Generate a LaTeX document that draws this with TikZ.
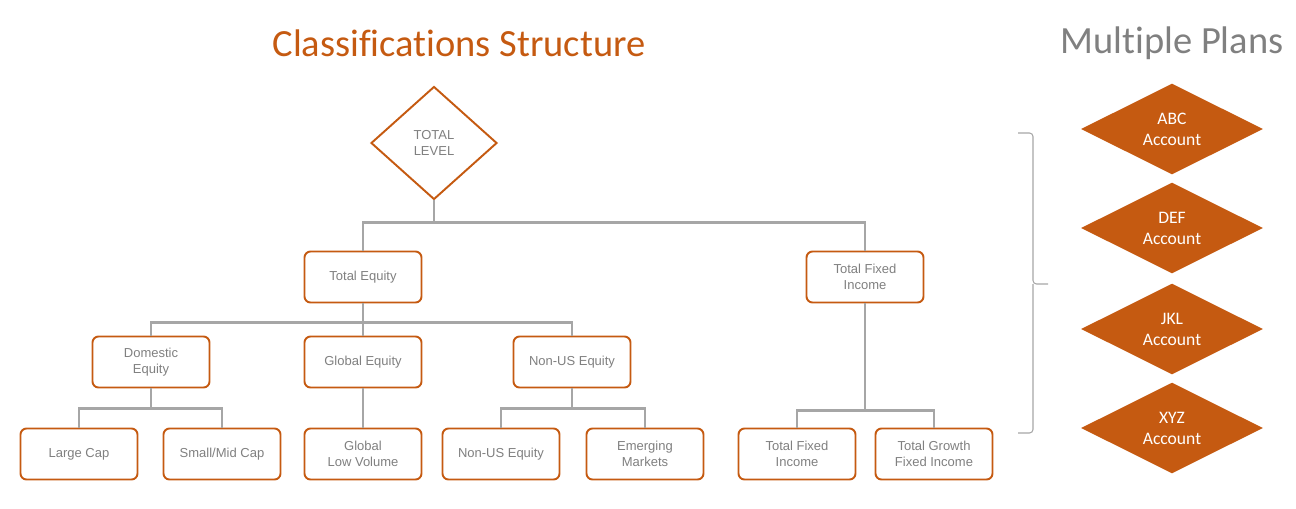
\documentclass[tikz,border=0pt]{standalone}
\usepackage{fontspec}
\setmainfont{Liberation Sans}
\newfontfamily\calfont[Ligatures=NoCommon]{Carlito}
\usetikzlibrary{shapes.geometric}
\definecolor{rust}{RGB}{197,90,17}
\definecolor{txtgray}{RGB}{128,128,128}
\definecolor{linegray}{RGB}{166,166,166}
\begin{document}
\begin{tikzpicture}[x=0.02cm,y=-0.02cm,
  box/.style={draw=rust, line width=1.1pt, rounded corners=3.4pt, fill=white,
    minimum width=2.34cm, minimum height=1.02cm, align=center, text=txtgray,
    font=\fontsize{7.4}{9}\selectfont},
  level/.style={diamond, draw=rust, line width=1.1pt, fill=white, inner sep=0pt,
    minimum width=2.52cm, minimum height=2.26cm, align=center, text=txtgray,
    font=\fontsize{7.4}{9}\selectfont},
  plan/.style={diamond, fill=rust, inner sep=0pt, minimum width=3.64cm,
    minimum height=1.76cm, align=center, text=white,
    font=\calfont\fontsize{10}{12}\selectfont},
  link/.style={draw=linegray, line width=1.25pt}]
\useasboundingbox (0,0) rectangle (1296,508);
\node[text=rust, font=\calfont\fontsize{21.9}{24}\selectfont] (title) at (459,43) {Classifications Structure};
\node[text=txtgray, font=\calfont\fontsize{21.9}{24}\selectfont] (plans) at (1172,43) {Multiple Plans};
\node[level] (total) at (434,143) {TOTAL\\LEVEL};
\node[box] (eq) at (363,277) {Total Equity};
\node[box] (fi) at (865,277) {Total Fixed\\Income};
\node[box] (dom) at (151,362) {Domestic\\Equity};
\node[box] (glob) at (363,362) {Global Equity};
\node[box] (nonus) at (572,362) {Non-US Equity};
\node[box] (large) at (79,454) {Large Cap};
\node[box] (small) at (222,454) {Small/Mid Cap};
\node[box] (lowvol) at (363,454) {Global\\Low Volume};
\node[box] (nonusb) at (501,454) {Non-US Equity};
\node[box] (emerg) at (645,454) {Emerging\\Markets};
\node[box] (fib) at (797,454) {Total Fixed\\Income};
\node[box] (growth) at (934,454) {Total Growth\\Fixed Income};
\draw[link] (total.south) -- ++(0,22) -| (eq.north);
\draw[link] (total.south) -- ++(0,22) -| (fi.north);
\draw[link] (eq.south) -- ++(0,19) -| (dom.north);
\draw[link] (eq.south) -- (glob.north);
\draw[link] (eq.south) -- ++(0,19) -| (nonus.north);
\draw[link] (dom.south) -- ++(0,20) -| (large.north);
\draw[link] (dom.south) -- ++(0,20) -| (small.north);
\draw[link] (glob.south) -- (lowvol.north);
\draw[link] (nonus.south) -- ++(0,20) -| (nonusb.north);
\draw[link] (nonus.south) -- ++(0,20) -| (emerg.north);
\draw[link] (fi.south) -- ++(0,107) -| (fib.north);
\draw[link] (fi.south) -- ++(0,107) -| (growth.north);
\node[plan] (abc) at (1172,129) {ABC\\Account};
\node[plan] (def) at (1172,228) {DEF\\Account};
\node[plan] (jkl) at (1172,329) {JKL\\Account};
\node[plan] (xyz) at (1172,428) {XYZ\\Account};
\draw[linegray, line width=0.6pt, rounded corners=2pt] (1018,133) -| (1033,284) -- (1048,284);
\draw[linegray, line width=0.6pt, rounded corners=2pt] (1018,433) -| (1033,284);
\end{tikzpicture}
\end{document}
